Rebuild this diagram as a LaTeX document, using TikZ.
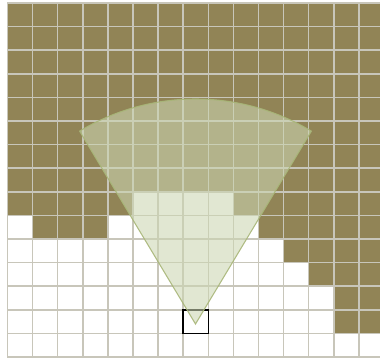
\documentclass[tikz,border=0pt]{standalone}
\definecolor{terrain}{RGB}{145,132,86}
\definecolor{gridline}{RGB}{200,198,186}
\definecolor{fanfill}{RGB}{205,214,178}
\definecolor{fanedge}{RGB}{168,182,120}
\tikzset{
  gridln/.style={draw=gridline, line width=1.1pt},
  fanshape/.style={fill=fanfill, fill opacity=0.58, draw=fanedge, draw opacity=0.9, line width=0.8pt},
  selcell/.style={draw=black, line width=1.1pt, inner sep=0pt, minimum width=18.8pt, minimum height=17.7pt}
}
\begin{document}
\begin{tikzpicture}[x=0.75pt,y=-0.75pt]
\useasboundingbox (0,0) rectangle (380,360);
\fill[white] (0,0) rectangle (380,360);
\clip (0,0) rectangle (380,360);
\fill[terrain] (7.5,3) rectangle (384,357);
\foreach \r/\a/\b in {8/5/8, 9/0/0, 9/4/9, 10/0/10, 11/0/11, 12/0/12, 13/0/12, 14/0/14}
  \fill[white] ({7.5+25.1*\a},{3+23.6*\r}) rectangle ({7.5+25.1*(\b+1)},{3+23.6*(\r+1)});
\foreach \i in {0,...,15}
  \draw[gridln] ({7.5+25.1*\i},3) -- ({7.5+25.1*\i},357);
\foreach \j in {0,...,15}
  \draw[gridln] (7.5,{3+23.6*\j}) -- (384,{3+23.6*\j});
\node[selcell] (sel) at (195.75,321.6) {};
\coordinate (apex) at (195.5,324);
\path[fanshape] (apex) -- ++(-121:225) arc[start angle=-121, end angle=-59, radius=225] -- cycle;
\end{tikzpicture}
\end{document}
